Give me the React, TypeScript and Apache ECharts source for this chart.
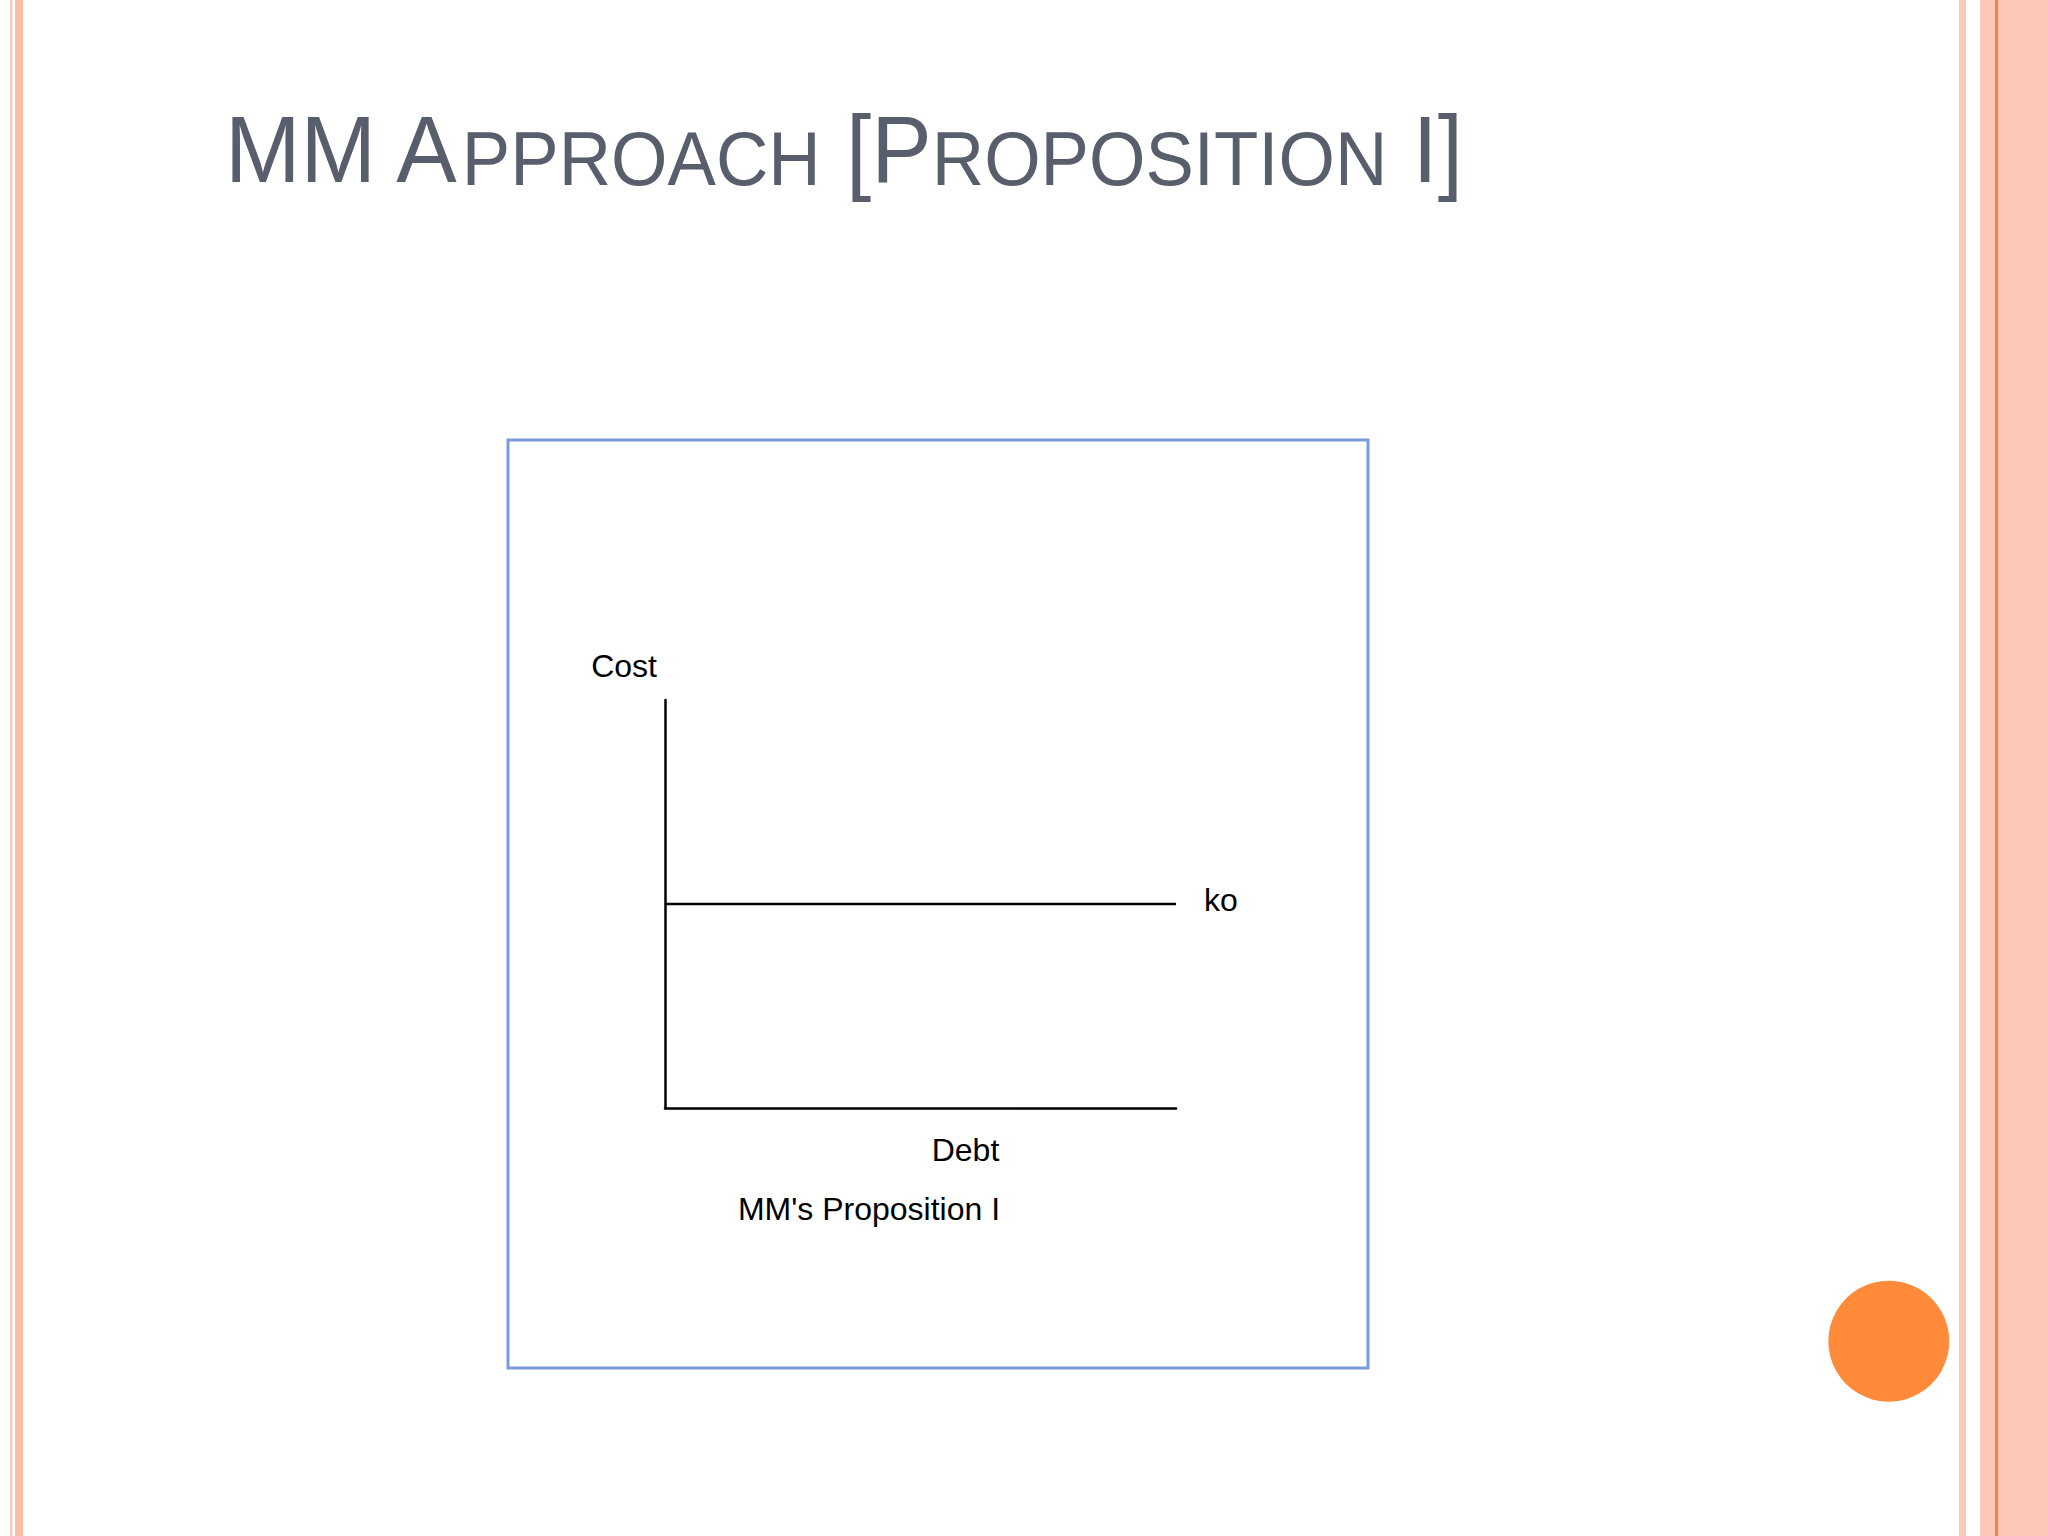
import React, { useEffect, useRef } from "react";
import * as echarts from "echarts";

// ---- data ----
const debtRange: number[] = [0, 10];
const koValues: number[] = [5, 5];
const axisMin = 0;
const axisMax = 10;
const yAxisTitle = "Cost";
const xAxisTitle = "Debt";
const seriesName = "ko";
const caption = "MM's Proposition I";

const FONT = "'Liberation Sans', Arial, Helvetica, sans-serif";

export default function App() {
  const ref = useRef<HTMLDivElement>(null);

  useEffect(() => {
    if (!ref.current) return;
    const chart = echarts.init(ref.current, undefined, { renderer: "svg" });
    const koData = debtRange.map((d, i) => [d, koValues[i]]);

    chart.setOption({
      animation: false,
      backgroundColor: "#ffffff",
      grid: { left: 665, top: 700, width: 511, height: 408, containLabel: false },
      xAxis: {
        type: "value",
        min: axisMin,
        max: axisMax,
        name: xAxisTitle,
        nameLocation: "middle",
        nameGap: 26,
        nameTextStyle: {
          fontSize: 32,
          color: "#000",
          fontFamily: FONT,
          padding: [0, 0, 0, 90],
        },
        axisLine: { show: true, onZero: false, lineStyle: { color: "#000", width: 2.5 } },
        axisTick: { show: false },
        axisLabel: { show: false },
        splitLine: { show: false },
      },
      yAxis: {
        type: "value",
        min: axisMin,
        max: axisMax,
        name: yAxisTitle,
        nameLocation: "end",
        nameGap: 18,
        nameTextStyle: {
          fontSize: 32,
          color: "#000",
          fontFamily: FONT,
          align: "right",
          padding: [0, 8, 0, 0],
        },
        axisLine: { show: true, onZero: false, lineStyle: { color: "#000", width: 2.5 } },
        axisTick: { show: false },
        axisLabel: { show: false },
        splitLine: { show: false },
      },
      series: [
        {
          type: "line",
          name: seriesName,
          data: koData,
          showSymbol: false,
          silent: true,
          lineStyle: { color: "#000", width: 2.5 },
          emphasis: { disabled: true },
          endLabel: {
            show: true,
            formatter: seriesName,
            fontSize: 32,
            color: "#000",
            fontFamily: FONT,
            distance: 28,
            offset: [0, -4],
          },
        },
      ],
      graphic: [
        // left decorative stripes
        { type: "rect", shape: { x: 10, y: 0, width: 2.5, height: 1536 }, style: { fill: "#f9c9bc" }, silent: true },
        { type: "rect", shape: { x: 15, y: 0, width: 8, height: 1536 }, style: { fill: "#fbbda8" }, silent: true },
        // right decorative stripes
        { type: "rect", shape: { x: 1959, y: 0, width: 7, height: 1536 }, style: { fill: "#fbc7b7" }, silent: true },
        { type: "rect", shape: { x: 1980, y: 0, width: 68, height: 1536 }, style: { fill: "#fdc8b5" }, silent: true },
        { type: "rect", shape: { x: 1995, y: 0, width: 3, height: 1536 }, style: { fill: "#f0883c" }, silent: true },
        // orange circle
        { type: "circle", shape: { cx: 1888.8, cy: 1341.2, r: 60.5 }, style: { fill: "#ff8a3a" }, silent: true },
        // chart frame
        {
          type: "rect",
          shape: { x: 508, y: 440, width: 860, height: 928 },
          style: { fill: "none", stroke: "#7b9ad9", lineWidth: 3 },
          silent: true,
          z: -1,
        },
        // caption
        {
          type: "text",
          x: 869,
          y: 1209,
          style: {
            text: caption,
            fontSize: 32,
            fontFamily: FONT,
            fill: "#000",
            align: "center",
            verticalAlign: "middle",
          },
          silent: true,
        },
        // slide title (small caps)
        {
          type: "group",
          x: 225,
          y: 0,
          scaleX: 0.955,
          silent: true,
          children: [
            {
              type: "text",
              x: 0,
              y: 196.5,
              style: {
                text: "{b|MM A}{s|PPROACH}{b| [P}{s|ROPOSITION}{b| I]}",
                align: "left",
                verticalAlign: "bottom",
                fontFamily: FONT,
                fill: "#585e6b",
                rich: {
                  b: { fontSize: 95, lineHeight: 95, fontFamily: FONT, fill: "#585e6b", verticalAlign: "bottom" },
                  s: { fontSize: 76, lineHeight: 81.8, fontFamily: FONT, fill: "#585e6b", verticalAlign: "bottom" },
                },
              },
            },
          ],
        },
      ],
    });

    return () => {
      chart.dispose();
    };
  }, []);

  return (
    <div
      ref={ref}
      style={{ position: "absolute", left: 0, top: 0, width: 2048, height: 1536 }}
    />
  );
}
